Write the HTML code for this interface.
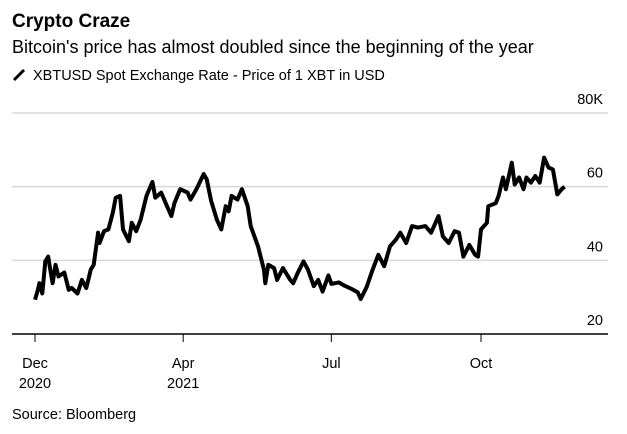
<!DOCTYPE html>
<html><head><meta charset="utf-8"><style>
body{margin:0;background:#fff;font-family:"Liberation Sans",sans-serif;}
svg text{font-family:"Liberation Sans",sans-serif;fill:#000;}
</style></head><body>
<svg width="627" height="429" viewBox="0 0 627 429">
<text x="12" y="27" font-size="19" font-weight="bold">Crypto Craze</text>
<text x="12" y="53" font-size="18">Bitcoin's price has almost doubled since the beginning of the year</text>
<line x1="14" y1="80" x2="24" y2="70" stroke="#000" stroke-width="3"/>
<text x="33" y="80" font-size="14.5">XBTUSD Spot Exchange Rate - Price of 1 XBT in USD</text>
<g id="grid"></g>
<g id="axes"></g>
<path id="line" fill="none" stroke="#000" stroke-width="4" stroke-linejoin="round"/>
<text x="12" y="419" font-size="14.5">Source: Bloomberg</text>
</svg>
<script>
const days=[0,2,3,5,7,9,10,12,14,16,20,23,25,29,32,35,38,40,43,44,47,50,53,55,58,60,64,66,69,72,76,80,82,86,90,93,95,99,104,106,110,115,117,120,124,127,130,132,134,138,141,145,147,152,156,157,159,163,165,169,174,176,179,183,186,190,193,196,200,202,207,211,216,220,222,226,230,234,238,242,246,249,253,257,261,266,270,275,278,282,286,289,292,296,300,302,304,308,309,314,316,319,321,325,327,330,333,335,338,341,344,347,350,353,356,359,361];
const prices=[29.3,32,33.8,31,39.7,41,38.4,33.8,38.8,35.6,36.7,32,32.5,31,34.7,32.5,37.5,38.8,47.5,44.7,47.9,48.4,52.9,57,57.5,48.4,45.2,50.2,47.9,51,57.5,61.3,57,58.4,54.7,52,55.5,59.3,58.4,56.5,59.3,63.4,62,56.2,51,48.4,54.7,53.3,57.5,56.5,59.3,54.7,49.3,43.8,37.5,33.8,38.8,37.9,34.7,37.9,34.7,33.8,36.5,39.7,37.5,33,34.7,31.5,35.9,33.6,34,33.1,32.2,31.3,29.5,32.7,37.3,41.5,38.4,43.8,45.6,47.5,44.7,49.3,48.9,49.3,47.5,52,46.5,44.7,47.9,47.5,41,44.2,41.5,41,48.4,50.2,54.7,55.5,57.5,62.5,59.3,66.5,60.6,62.5,59.3,62.5,61.1,62.9,61.1,67.9,65.2,64.7,57.9,59.3,60];
const yTicks=[20,40,60,80];
const yTickLabels=["20","40","60","80K"];
const xTickDays=[0,101,202,304];
const xTickLabels=["Dec","Apr","Jul","Oct"];
const xYearLabels=["2020","2021","",""];
const NS="http://www.w3.org/2000/svg";
const X=d=>35+d*(446/304);
const Y=v=>334-(v-20)*(221/60);
const grid=document.getElementById('grid'),axes=document.getElementById('axes');
function mk(tag,attrs,parent,txt){const e=document.createElementNS(NS,tag);for(const k in attrs)e.setAttribute(k,attrs[k]);if(txt!==undefined)e.textContent=txt;parent.appendChild(e);return e;}
yTicks.forEach((v,i)=>{
  const l=mk('line',{x1:12,x2:608,y1:Y(v),y2:Y(v),stroke:i===0?'#000':'#d8d8d8','stroke-width':1.5},grid);
  
  
  const t=mk('text',{x:603,y:Y(v)-9,'font-size':14.5,'text-anchor':'end'},axes,yTickLabels[i]);
  
  
});
xTickDays.forEach((d,i)=>{
  const l=mk('line',{x1:X(d),x2:X(d),y1:334,y2:342,stroke:'#000','stroke-width':1},axes);
  
  
  const t=mk('text',{x:X(d),y:368,'font-size':14.5,'text-anchor':'middle'},axes,xTickLabels[i]);
  
  
  if(xYearLabels[i]){
    const y=mk('text',{x:X(d),y:388,'font-size':14.5,'text-anchor':'middle'},axes,xYearLabels[i]);
    
    
  }
});
document.getElementById('line').setAttribute('d',days.map((d,i)=>(i?'L':'M')+X(d).toFixed(1)+','+Y(prices[i]).toFixed(1)).join(''));
</script>
</body></html>
